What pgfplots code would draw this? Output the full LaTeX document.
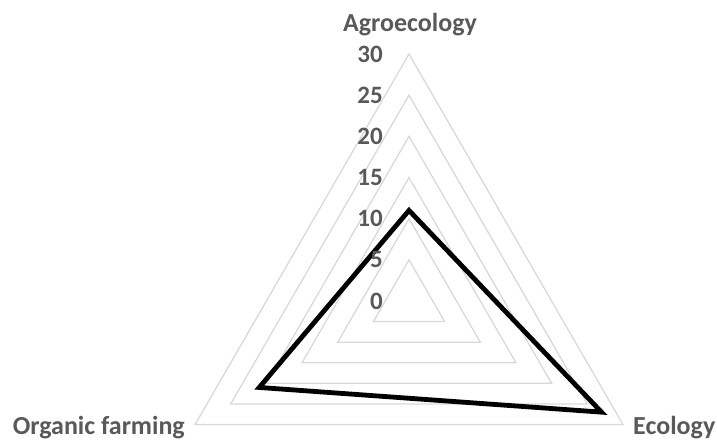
\documentclass[border=0pt]{standalone}
\usepackage{fontspec}
\setmainfont{Carlito}
\usepackage{pgfplots}
\usepgfplotslibrary{polar}
\pgfplotsset{compat=1.18}
\definecolor{txt}{RGB}{89,89,89}
\definecolor{grd}{RGB}{217,217,217}
\begin{document}
\begin{tikzpicture}
\useasboundingbox (-409pt,-140pt) rectangle (308pt,301pt);
\begin{polaraxis}[
  at={(0pt,0pt)}, anchor=center,
  width=494pt, height=494pt, scale only axis,
  xmin=0, xmax=360, ymin=0, ymax=30,
  hide axis, clip=false, grid=none, xtick=\empty, ytick=\empty,
]
\addplot[grd, line width=1.3pt, line join=miter] coordinates {(90,5) (330,5) (210,5)} --cycle;
\addplot[grd, line width=1.3pt, line join=miter] coordinates {(90,10) (330,10) (210,10)} --cycle;
\addplot[grd, line width=1.3pt, line join=miter] coordinates {(90,15) (330,15) (210,15)} --cycle;
\addplot[grd, line width=1.3pt, line join=miter] coordinates {(90,20) (330,20) (210,20)} --cycle;
\addplot[grd, line width=1.3pt, line join=miter] coordinates {(90,25) (330,25) (210,25)} --cycle;
\addplot[grd, line width=1.3pt, line join=miter] coordinates {(90,30) (330,30) (210,30)} --cycle;
\addplot[black, line width=4.8pt, line join=miter] coordinates {(90,11) (330,27) (210,21)} --cycle;
\end{polaraxis}
\foreach \v in {0,5,...,30} {
  \node[anchor=east, inner sep=0pt, text=txt, font=\fontsize{25}{28}\selectfont\bfseries] at (-26pt, {\v*8.2333pt}) {\v};
}
\node[anchor=base, inner sep=0pt, text=txt, font=\fontsize{26}{29}\selectfont\bfseries] at (1pt,269pt) {Agroecology};
\node[anchor=base west, inner sep=0pt, text=txt, font=\fontsize{26}{29}\selectfont\bfseries] at (224pt,-134pt) {Ecology};
\node[anchor=base east, inner sep=0pt, text=txt, font=\fontsize{26}{29}\selectfont\bfseries] at (-224pt,-134pt) {Organic farming};
\end{tikzpicture}
\end{document}
